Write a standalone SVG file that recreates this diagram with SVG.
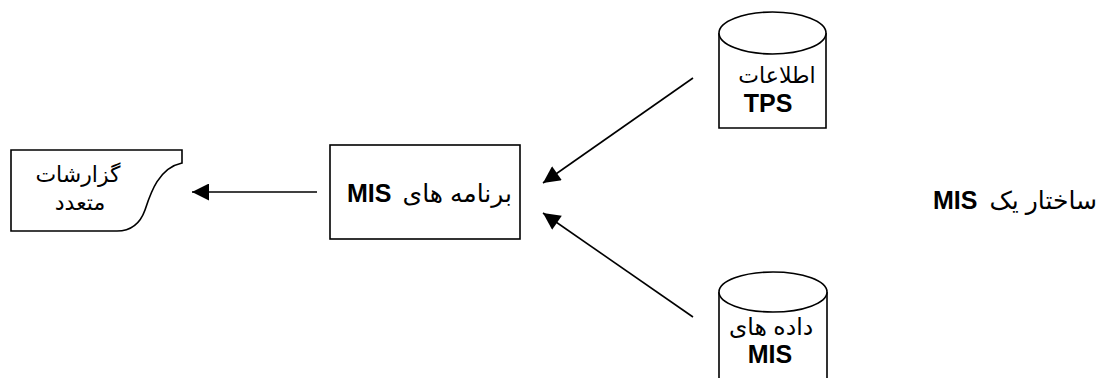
<svg xmlns="http://www.w3.org/2000/svg" width="1098" height="378" viewBox="0 0 1098 378">
<style>
.s{fill:#fff;stroke:#000;stroke-width:1.6}
.t{font-family:"Liberation Sans","DejaVu Sans",Arial,sans-serif;font-size:25px;fill:#000}
.t22{font-size:22px}
.t23{font-size:23.5px}
.b{font-family:"Liberation Sans",Arial,sans-serif;font-size:25px;font-weight:bold;fill:#000}
.c{fill:none;stroke:#000;stroke-width:1.6}
</style>
<defs>
<marker id="ah" viewBox="0 0 10 10" refX="10" refY="5" markerWidth="25" markerHeight="17" markerUnits="userSpaceOnUse" orient="auto">
<path d="M0,0 L10,5 L0,10 Z" fill="#000"/>
</marker>
</defs>
<rect width="1098" height="378" fill="#fff"/>
<g id="title">
<text class="b" x="933" y="209">MIS</text>
<text class="t" x="1097" y="209" text-anchor="end">ساختار یک</text>
</g>
<g id="reports">
<path class="s" d="M11,150 H182 V163 C158,168 150,195 145,210 C140,224 130,231 117,231 H11 Z"/>
<text class="t t22" x="78" y="182" text-anchor="middle">گزارشات</text>
<text class="t t22" x="80" y="210" text-anchor="middle">متعدد</text>
</g>
<g id="mis-programs">
<rect class="s" x="330" y="145" width="190" height="94"/>
<text class="b" x="347" y="202">MIS</text>
<text class="t" x="512" y="202" text-anchor="end">برنامه های</text>
</g>
<g id="tps-data">
<path class="s" d="M719,33 V128 H826 V33"/>
<ellipse class="s" cx="772.5" cy="33" rx="53.5" ry="21"/>
<text class="t t22" x="777" y="83" text-anchor="middle">اطلاعات</text>
<text class="b" x="768" y="112" text-anchor="middle">TPS</text>
</g>
<g id="mis-data">
<path class="s" d="M719,292 V380 H827 V292"/>
<ellipse class="s" cx="773" cy="292" rx="54" ry="20"/>
<text class="t t23" x="771" y="335" text-anchor="middle">داده های</text>
<text class="b" x="770" y="363" text-anchor="middle">MIS</text>
</g>
<g id="connectors">
<line class="c" x1="317" y1="192" x2="192" y2="192" marker-end="url(#ah)"/>
<line class="c" x1="693" y1="78" x2="543" y2="183" marker-end="url(#ah)"/>
<line class="c" x1="693" y1="317" x2="543" y2="213" marker-end="url(#ah)"/>
</g>
</svg>
